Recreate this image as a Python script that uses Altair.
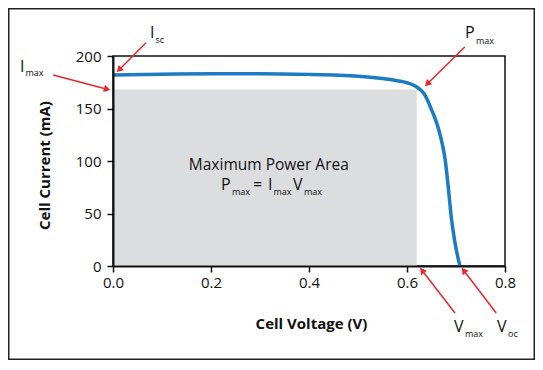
import altair as alt
import pandas as pd
import numpy as np

# I-V curve
voltage = [0.0, 0.1, 0.2, 0.3, 0.4, 0.45, 0.5, 0.55, 0.58, 0.6, 0.62, 0.635, 0.65,
           0.66, 0.667, 0.673, 0.678, 0.684, 0.691, 0.698, 0.708]
current = [182, 182.7, 183.1, 183.2, 182.5, 181.8, 180.8, 178.5, 176.5, 174.5, 170.5,
           164, 149, 137, 126, 114, 101, 76, 44, 22, 0]

# maximum power rectangle
v_max = 0.62
i_max = 168

# x / y ticks
x_ticks = [0, 0.2, 0.4, 0.6, 0.8]
y_ticks = [0, 50, 100, 150, 200]

# annotation arrows (tail -> head, data units)
arrow_name = ["Isc", "Imax", "Pmax", "Vmax", "Voc"]
arrow_v0 = [0.067, -0.122, 0.718, 0.698, 0.782]
arrow_i0 = [212.4, 181.9, 208.6, -44.8, -44.8]
arrow_v1 = [0.008, -0.006, 0.637, 0.627, 0.712]
arrow_i1 = [184.8, 167.6, 171.4, -1.9, -1.9]

# annotation texts (main letter / subscript pieces)
label_text = ["I", "sc", "I", "max", "P", "max", "V", "max", "V", "oc",
              "P", "max", "=", "I", "max", "V", "max"]
label_v = [0.0755, 0.0867, -0.1898, -0.1786, 0.7184, 0.7408, 0.6959, 0.7184, 0.7837, 0.8061,
           0.2204, 0.2429, 0.2858, 0.3163, 0.3276, 0.3673, 0.3898]
label_i = [217.1, 212.4, 184.8, 181.0, 217.1, 211.4, -62.9, -67.6, -62.9, -67.6,
           72.4, 67.6, 72.4, 72.4, 67.6, 72.4, 67.6]
label_kind = ["main", "sub", "main", "sub", "main", "sub", "main", "sub", "main", "sub",
              "main", "sub", "main", "main", "sub", "main", "sub"]

area_title = "Maximum Power Area"
area_title_v = 0.318
area_title_i = 91.4

W, H = 392, 210
XD = [0, 0.8]
YD = [0, 200]
FONT = "Open Sans"
RED = "#e8262d"
BLUE = "#1b7cc3"

x_scale = alt.Scale(domain=XD, nice=False, zero=False)
y_scale = alt.Scale(domain=YD, nice=False, zero=False)

curve = pd.DataFrame({"V": voltage, "I": current})
rect = pd.DataFrame({"V0": [0], "V1": [v_max], "I0": [0], "I1": [i_max]})

arr = pd.DataFrame({"name": arrow_name, "v0": arrow_v0, "i0": arrow_i0,
                    "v1": arrow_v1, "i1": arrow_i1})
px0 = arr.v0 / XD[1] * W
py0 = H - arr.i0 / YD[1] * H
px1 = arr.v1 / XD[1] * W
py1 = H - arr.i1 / YD[1] * H
dx, dy = px1 - px0, py1 - py0
L = np.sqrt(dx ** 2 + dy ** 2)
arr["angle"] = (np.degrees(np.arctan2(dx, -dy)) + 360) % 360
back = 3.0
arr["hv"] = (px1 - dx / L * back) / W * XD[1]
arr["hi"] = (H - (py1 - dy / L * back)) / H * YD[1]
arr["lv"] = (px1 - dx / L * 5) / W * XD[1]
arr["li"] = (H - (py1 - dy / L * 5)) / H * YD[1]

labels = pd.DataFrame({"t": label_text, "V": label_v, "I": label_i, "kind": label_kind})

xenc = alt.X("V:Q", scale=x_scale, title="Cell Voltage (V)",
             axis=alt.Axis(values=x_ticks, format=".1f", titleX=198, titleY=57,
                           titleBaseline="middle", titleAlign="center", labelFlush=False,
                           zindex=1))
yenc = alt.Y("I:Q", scale=y_scale, title="Cell Current (mA)",
             axis=alt.Axis(values=y_ticks, titleX=-69, titleY=109, titleAngle=270,
                           titleBaseline="middle", titleAlign="center", labelFlush=False,
                           zindex=1))

area = alt.Chart(rect).mark_rect(color="#dcdddf").encode(
    x=alt.X("V0:Q", scale=x_scale), x2="V1:Q",
    y=alt.Y("I0:Q", scale=y_scale), y2="I1:Q")

line = alt.Chart(curve).mark_line(color=BLUE, strokeWidth=3.5, interpolate="monotone").encode(
    x=xenc, y=yenc)

rules = alt.Chart(arr).mark_rule(color=RED, strokeWidth=1.5, clip=False).encode(
    x=alt.X("v0:Q", scale=x_scale), x2="lv:Q",
    y=alt.Y("i0:Q", scale=y_scale), y2="li:Q")

heads = alt.Chart(arr).mark_point(shape="triangle-up", filled=True, color=RED, opacity=1,
                                  size=55, clip=False).encode(
    x=alt.X("hv:Q", scale=x_scale), y=alt.Y("hi:Q", scale=y_scale),
    angle=alt.Angle("angle:Q", scale=None))

main_txt = alt.Chart(labels[labels.kind == "main"]).mark_text(
    font=FONT, fontSize=16, align="left", baseline="alphabetic", color="#111", clip=False).encode(
    x=alt.X("V:Q", scale=x_scale), y=alt.Y("I:Q", scale=y_scale), text="t:N")

sub_txt = alt.Chart(labels[labels.kind == "sub"]).mark_text(
    font=FONT, fontSize=9, align="left", baseline="alphabetic", color="#111", clip=False).encode(
    x=alt.X("V:Q", scale=x_scale), y=alt.Y("I:Q", scale=y_scale), text="t:N")

title_txt = alt.Chart(pd.DataFrame({"t": [area_title], "V": [area_title_v], "I": [area_title_i]})).mark_text(
    font=FONT, fontSize=15.5, align="center", baseline="alphabetic", color="#111").encode(
    x=alt.X("V:Q", scale=x_scale), y=alt.Y("I:Q", scale=y_scale), text="t:N")

frame = alt.Chart(pd.DataFrame({"a": [0]})).mark_rect(
    fillOpacity=0, stroke="#222", strokeWidth=1.5, clip=False).encode(
    x=alt.value(-104.25), x2=alt.value(421.25), y=alt.value(-47.25), y2=alt.value(303.25))

chart = alt.layer(area, line, title_txt, main_txt, sub_txt, rules, heads, frame).properties(
    width=W, height=H,
    autosize=alt.AutoSizeParams(type="none"),
    padding={"left": 105, "top": 48, "right": 30, "bottom": 94},
).configure_view(
    stroke="#111", strokeWidth=1.5
).configure_axis(
    grid=False, domainColor="#111", domainWidth=2, tickColor="#111", tickWidth=1.5,
    tickSize=6, labelFont=FONT, labelFontSize=15, labelColor="#111",
    titleFont=FONT, titleFontSize=15, titleFontWeight="bold", titleColor="#111"
).configure_axisY(labelPadding=6).configure_axisX(labelPadding=3)

chart.save("out.html", embed_options={"renderer": "svg", "actions": False})
